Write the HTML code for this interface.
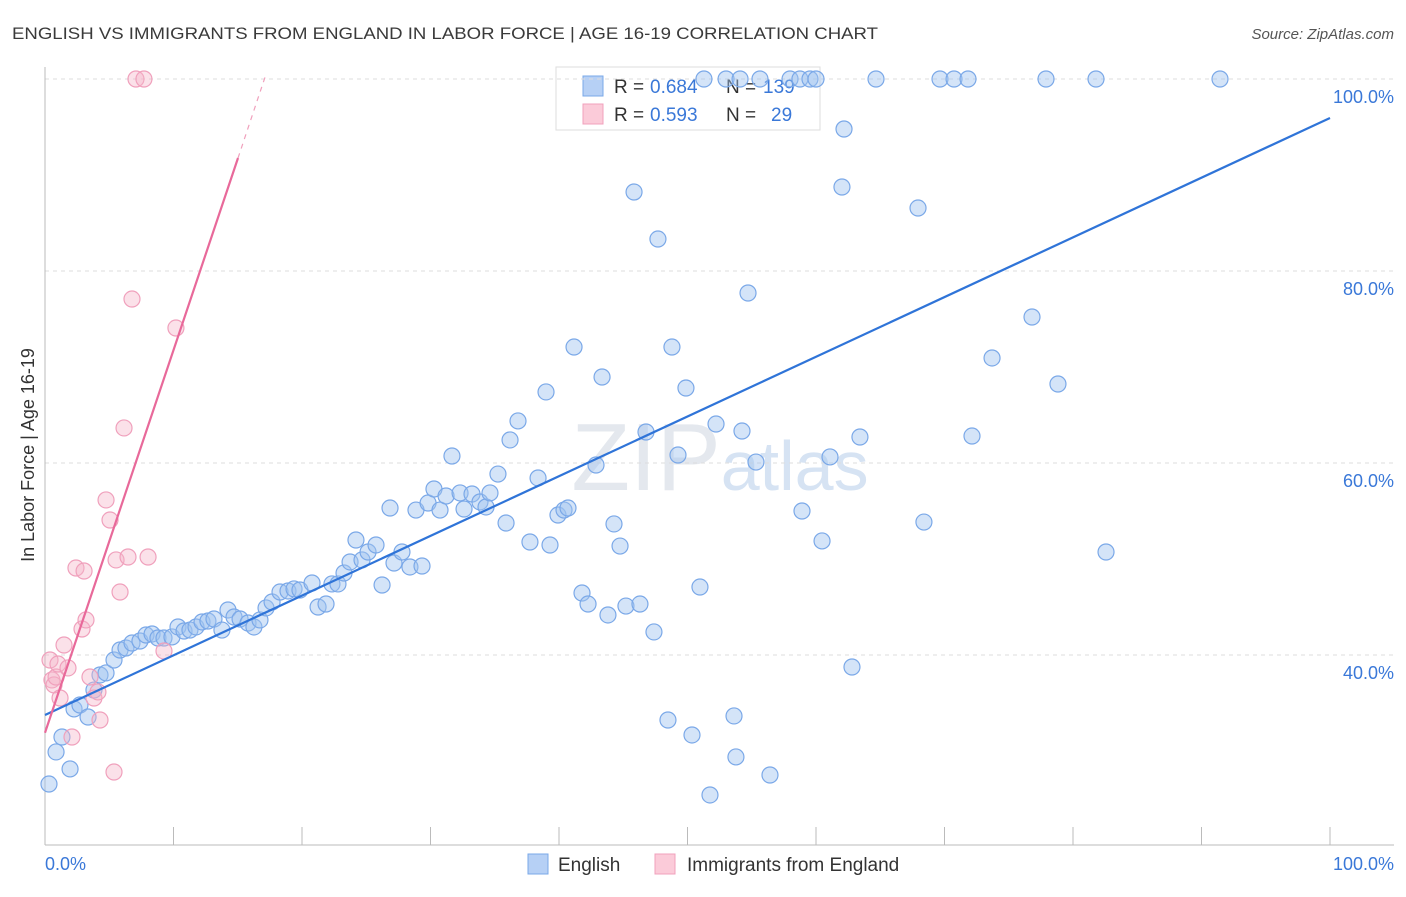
<!DOCTYPE html>
<html><head><meta charset="utf-8"><style>
body{margin:0;background:#fff;font-family:"Liberation Sans",sans-serif;}
svg text{font-family:"Liberation Sans",sans-serif;}
</style></head><body>
<svg id="chart" width="1406" height="892">
<text x="12" y="39" font-size="17" fill="#3a3a3a" textLength="866" lengthAdjust="spacingAndGlyphs">ENGLISH VS IMMIGRANTS FROM ENGLAND IN LABOR FORCE | AGE 16-19 CORRELATION CHART</text>
<text x="1394" y="39" font-size="15" fill="#555" text-anchor="end" font-style="italic">Source: ZipAtlas.com</text>
<text x="720" y="490" font-size="96" fill="#e4e8ee" text-anchor="middle" font-family="Liberation Serif">ZIP<tspan font-family="Liberation Sans" font-size="70" fill="#d6e3f3">atlas</tspan></text>
<g>
<rect x="556" y="67" width="264" height="63" fill="#fff" stroke="#ddd"/>
<rect x="583" y="76" width="20" height="20" fill="#b6d0f5" stroke="#7aa8e8"/>
<rect x="583" y="104" width="20" height="20" fill="#fbcbd9" stroke="#f0a0bc"/>
<text y="93" font-size="19" fill="#333"><tspan x="614">R =</tspan><tspan x="650" fill="#3a78d8">0.684</tspan><tspan x="726">N =</tspan><tspan x="763" fill="#3a78d8">139</tspan></text>
<text y="121" font-size="19" fill="#333"><tspan x="614">R =</tspan><tspan x="650" fill="#3a78d8">0.593</tspan><tspan x="726">N =</tspan><tspan x="771" fill="#3a78d8">29</tspan></text>
</g>
<g id="grid"></g><g id="axes"></g><g id="pts"></g><g id="lines"></g>
<text transform="translate(34,455) rotate(-90)" font-size="18" fill="#333" text-anchor="middle">In Labor Force | Age 16-19</text>
<text x="45" y="870" font-size="18" fill="#3a78d8">0.0%</text>
<text x="1394" y="870" font-size="18" fill="#3a78d8" text-anchor="end">100.0%</text>
<g>
<rect x="528" y="854" width="20" height="20" fill="#b6d0f5" stroke="#7aa8e8"/>
<text x="558" y="871" font-size="19" fill="#333">English</text>
<rect x="655" y="854" width="20" height="20" fill="#fbcbd9" stroke="#f0a0bc"/>
<text x="687" y="871" font-size="19" fill="#333">Immigrants from England</text>
</g>
</svg>
<script>
const yTicks=[40,60,80,100];
const yTickLabels=["40.0%","60.0%","80.0%","100.0%"];
const bluePx=[[49,784],[56,752],[62,737],[70,769],[74,709],[80,705],[88,717],[94,690],[100,675],[106,673],[114,660],[120,650],[126,648],[132,643],[140,641],[146,635],[152,634],[158,638],[164,638],[172,637],[178,627],[184,631],[190,630],[196,627],[202,622],[208,621],[214,619],[222,630],[228,610],[234,617],[240,619],[248,623],[254,627],[260,620],[266,608],[272,602],[280,592],[288,591],[294,589],[300,590],[312,583],[318,607],[326,604],[332,584],[338,584],[344,573],[350,562],[356,540],[362,560],[368,552],[376,545],[382,585],[390,508],[394,563],[402,552],[410,567],[416,510],[422,566],[428,503],[434,489],[440,510],[446,496],[452,456],[460,493],[464,509],[472,494],[480,502],[486,507],[490,493],[498,474],[506,523],[510,440],[518,421],[530,542],[538,478],[546,392],[550,545],[558,515],[564,510],[568,508],[574,347],[582,593],[588,604],[596,465],[602,377],[608,615],[614,524],[620,546],[626,606],[634,192],[640,604],[646,432],[654,632],[658,239],[668,720],[672,347],[678,455],[686,388],[692,735],[700,587],[710,795],[716,424],[726,79],[734,716],[736,757],[742,431],[748,293],[756,462],[760,79],[770,775],[790,79],[800,79],[802,511],[810,79],[816,79],[822,541],[830,457],[844,129],[842,187],[852,667],[860,437],[876,79],[918,208],[924,522],[940,79],[954,79],[968,79],[972,436],[992,358],[1032,317],[1046,79],[1058,384],[1096,79],[1106,552],[1220,79],[704,79],[740,79]];
const pinkPx=[[50,660],[52,680],[54,685],[56,677],[58,664],[60,698],[64,645],[68,668],[72,737],[76,568],[82,629],[84,571],[86,620],[90,677],[94,698],[98,692],[100,720],[106,500],[110,520],[114,772],[116,560],[120,592],[124,428],[128,557],[132,299],[136,79],[144,79],[148,557],[164,651],[176,328]];
const blueX=bluePx.map(p=>+((p[0]-45)/12.85).toFixed(2));
const blueY=bluePx.map(p=>+(40+(655-p[1])/9.6).toFixed(2));
const pinkX=pinkPx.map(p=>+((p[0]-45)/12.85).toFixed(2));
const pinkY=pinkPx.map(p=>+(40+(655-p[1])/9.6).toFixed(2));
const blueTrend=[[0,33.75],[100,95.94]];
const pinkTrend=[[0,31.9],[15.02,91.77]];
const pinkDash=[[15.02,91.77],[17.2,100.5]];
const xs=v=>45+v*12.85, ys=v=>655-(v-40)*9.6;
const NS="http://www.w3.org/2000/svg";
function mk(t,a,parent){const e=document.createElementNS(NS,t);for(const k in a)e.setAttribute(k,a[k]);document.getElementById(parent).appendChild(e);return e;}
yTicks.forEach((t,i)=>{
 const l=mk('line',{x1:45,x2:1394,y1:ys(t),y2:ys(t),stroke:'#ddd','stroke-dasharray':'4,4'},'grid');
 
 
 const tx=mk('text',{x:1394,y:ys(t)+24,'font-size':18,fill:'#3a78d8','text-anchor':'end'},'grid');
 tx.textContent=yTickLabels[i];
 
 
});
const ax=mk('line',{x1:45,x2:45,y1:67,y2:845,stroke:'#bbb'},'axes');


const bx=mk('line',{x1:45,x2:1394,y1:845,y2:845,stroke:'#bbb'},'axes');


for(let i=0;i<=10;i++){const t=mk('line',{x1:xs(i*10),x2:xs(i*10),y1:827,y2:845,stroke:'#bbb'},'axes');
 
 }
blueX.forEach((x,i)=>{const c=mk('circle',{cx:xs(x),cy:ys(blueY[i]),r:8,fill:'rgba(160,195,240,0.45)',stroke:'#7aa8e8','stroke-width':1.2},'pts');
 
 });
pinkX.forEach((x,i)=>{const c=mk('circle',{cx:xs(x),cy:ys(pinkY[i]),r:8,fill:'rgba(245,180,200,0.4)',stroke:'#f0a0bc','stroke-width':1.2},'pts');
 
 });
let l1=mk('line',{x1:xs(blueTrend[0][0]),y1:ys(blueTrend[0][1]),x2:xs(blueTrend[1][0]),y2:ys(blueTrend[1][1]),stroke:'#2f74d8','stroke-width':2.2},'lines');


let l2=mk('line',{x1:xs(pinkTrend[0][0]),y1:ys(pinkTrend[0][1]),x2:xs(pinkTrend[1][0]),y2:ys(pinkTrend[1][1]),stroke:'#e8699a','stroke-width':2.2},'lines');


let l3=mk('line',{x1:xs(pinkDash[0][0]),y1:ys(pinkDash[0][1]),x2:xs(pinkDash[1][0]),y2:ys(pinkDash[1][1]),stroke:'#f0a0bc','stroke-width':1.2,'stroke-dasharray':'5,5'},'lines');


</script>
</body></html>
